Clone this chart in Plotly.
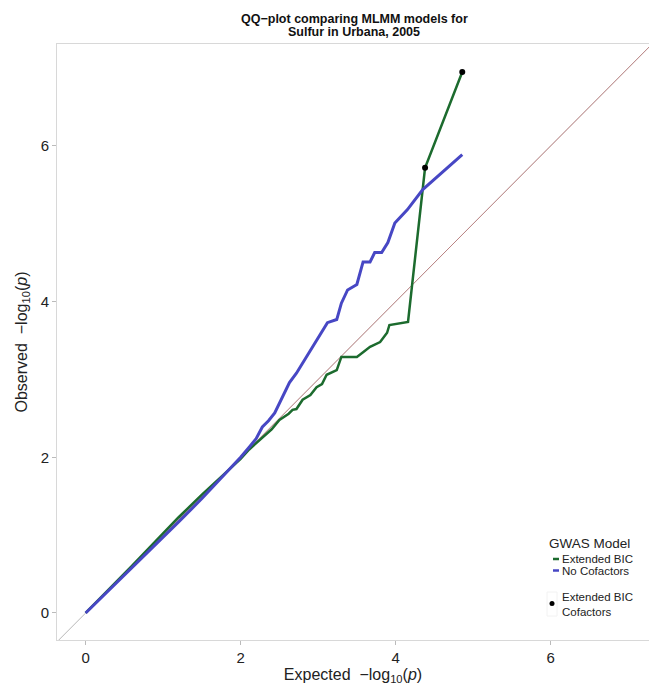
import plotly.graph_objects as go

# ---- data ----
green_x = [0, 0.3, 0.6, 0.9, 1.2, 1.5, 1.8, 2.0, 2.11, 2.3, 2.4, 2.5, 2.62, 2.67, 2.72, 2.8, 2.9, 2.98, 3.05, 3.11, 3.24, 3.30, 3.50, 3.58, 3.67, 3.80, 3.89, 3.92, 4.16, 4.38, 4.86]
green_y = [0, 0.30, 0.61, 0.92, 1.23, 1.52, 1.80, 1.98, 2.10, 2.27, 2.36, 2.48, 2.56, 2.61, 2.62, 2.74, 2.80, 2.90, 2.94, 3.06, 3.12, 3.29, 3.29, 3.35, 3.42, 3.48, 3.60, 3.70, 3.74, 5.72, 6.95]
blue_x = [0, 0.3, 0.6, 0.9, 1.2, 1.5, 1.8, 2.0, 2.11, 2.2, 2.28, 2.36, 2.44, 2.54, 2.63, 2.72, 2.80, 2.89, 3.02, 3.12, 3.24, 3.30, 3.38, 3.50, 3.58, 3.67, 3.73, 3.82, 3.90, 3.99, 4.15, 4.35, 4.86]
blue_y = [0, 0.29, 0.59, 0.88, 1.17, 1.47, 1.78, 2.0, 2.13, 2.24, 2.39, 2.47, 2.57, 2.78, 2.96, 3.08, 3.21, 3.34, 3.55, 3.73, 3.77, 3.98, 4.15, 4.22, 4.51, 4.51, 4.63, 4.63, 4.76, 5.01, 5.18, 5.44, 5.89]
cof_x = [4.38, 4.86]
cof_y = [5.72, 6.95]
diag_full = [-0.5, 8]
diag_red = [0, 8]
tick_vals = [0, 2, 4, 6]
title_lines = ["QQ\u2212plot comparing MLMM models for", "Sulfur in Urbana, 2005"]
legend_title = "GWAS Model"
line_names = ["Extended BIC", "No Cofactors"]
point_name = "Extended BIC<br>Cofactors"

FONT = "Liberation Sans, Arial, Helvetica, sans-serif"
GREEN = "#1c6b2e"
BLUE = "#4747c4"
line_colors = [GREEN, BLUE]

# plot area in pixels (for hand-placed title / legend)
L, R, T, B = 57, 649, 44, 640
def px(x):
    return (x - L) / (R - L)
def py(y):
    return (B - y) / (B - T)

fig = go.Figure()
fig.add_trace(go.Scatter(x=diag_full, y=diag_full, mode="lines",
                         line=dict(color="#b8b8b8", width=1), showlegend=False, hoverinfo="skip"))
fig.add_trace(go.Scatter(x=diag_red, y=diag_red, mode="lines",
                         line=dict(color="rgba(190,90,90,0.55)", width=1), showlegend=False, hoverinfo="skip"))
fig.add_trace(go.Scatter(x=green_x, y=green_y, mode="lines", name=line_names[0],
                         line=dict(color=GREEN, width=2.5), showlegend=False))
fig.add_trace(go.Scatter(x=blue_x, y=blue_y, mode="lines", name=line_names[1],
                         line=dict(color=BLUE, width=3), showlegend=False))
fig.add_trace(go.Scatter(x=cof_x, y=cof_y, mode="markers", name="Extended BIC Cofactors",
                         marker=dict(color="black", size=6), showlegend=False))

annotations = []
for i, t in enumerate(title_lines):
    annotations.append(dict(text="<b>" + t + "</b>", x=px(354), y=py(19 + 13 * i),
                            xref="paper", yref="paper", xanchor="center", yanchor="middle",
                            showarrow=False, font=dict(size=12.5, color="#111111")))
annotations.append(dict(text=legend_title, x=px(547), y=py(543), xref="paper", yref="paper",
                        xanchor="left", yanchor="middle", showarrow=False,
                        font=dict(size=13.5, color="#222222")))
shapes = []
for i, (nm, col) in enumerate(zip(line_names, line_colors)):
    yy = 559 + 11.5 * i
    annotations.append(dict(text=nm, x=px(560), y=py(yy), xref="paper", yref="paper",
                            xanchor="left", yanchor="middle", showarrow=False,
                            font=dict(size=11.5, color="#222222")))
    shapes.append(dict(type="line", xref="paper", yref="paper", x0=px(553), x1=px(559),
                       y0=py(yy), y1=py(yy), line=dict(color=col, width=2.5)))
annotations.append(dict(text=point_name, x=px(560), y=py(604), xref="paper", yref="paper",
                        xanchor="left", yanchor="middle", align="left", showarrow=False,
                        font=dict(size=11.5, color="#222222")))
shapes.append(dict(type="rect", xref="paper", yref="paper", x0=px(547), x1=px(557),
                   y0=py(616), y1=py(592), line=dict(color="#f2f2f2", width=1), fillcolor="rgba(0,0,0,0)"))
shapes.append(dict(type="circle", xref="paper", yref="paper", x0=px(549.5), x1=px(554.5),
                   y0=py(606), y1=py(601), line=dict(color="black", width=0), fillcolor="black"))

fig.update_layout(
    width=649, height=688,
    margin=dict(l=L, r=649 - R, t=T, b=688 - B, autoexpand=False),
    paper_bgcolor="white", plot_bgcolor="white",
    font=dict(family=FONT, color="#222222"),
    xaxis=dict(range=[-0.37, 7.27], tickvals=tick_vals, showgrid=False, zeroline=False,
               showline=True, linecolor="#d8d8d8", linewidth=1, mirror=True,
               ticks="outside", ticklen=4, tickcolor="#bbbbbb",
               tickfont=dict(size=15, color="#222222"),
               title=dict(text="Expected  \u2212log<sub>10</sub>(<i>p</i>)", font=dict(size=16), standoff=3)),
    yaxis=dict(range=[-0.347, 7.31], tickvals=tick_vals, showgrid=False, zeroline=False,
               showline=True, linecolor="#d8d8d8", linewidth=1,
               ticks="outside", ticklen=4, tickcolor="#bbbbbb",
               tickfont=dict(size=15, color="#222222"),
               title=dict(text="Observed  \u2212log<sub>10</sub>(<i>p</i>)", font=dict(size=16), standoff=9)),
    annotations=annotations,
    shapes=shapes,
    showlegend=False,
)

fig.write_html("out.html")
